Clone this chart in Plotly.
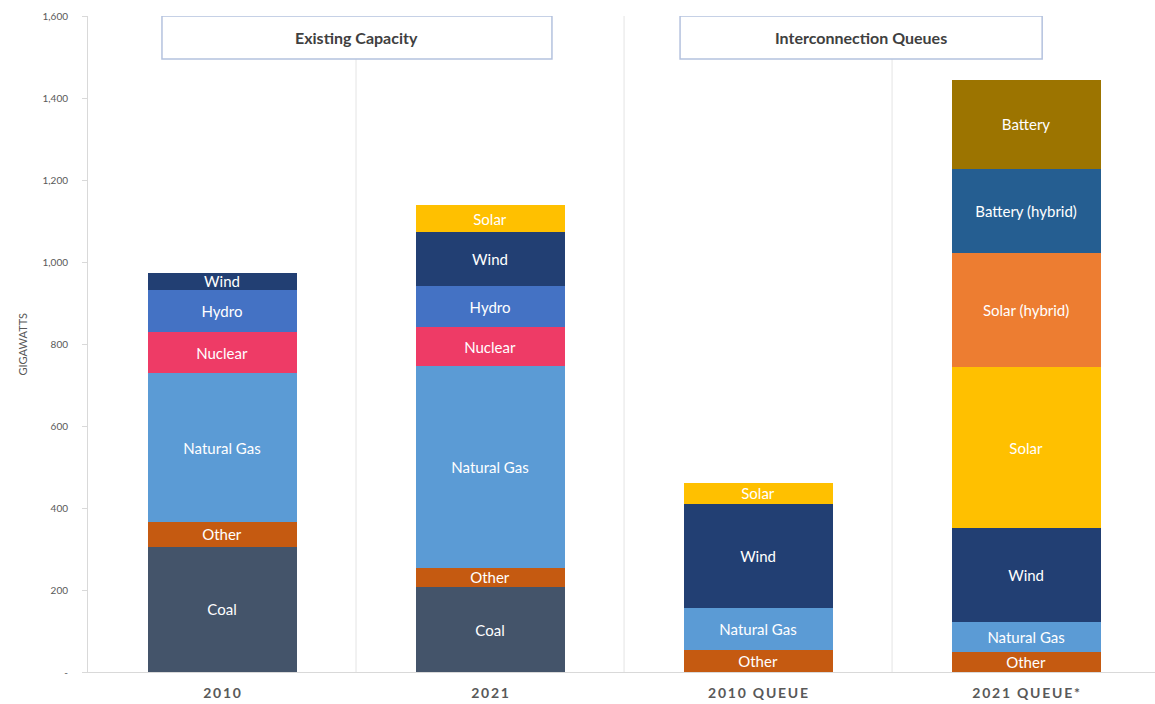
import plotly.graph_objects as go

# Categories on the x axis
categories = ["2010", "2021", "2010 QUEUE", "2021 QUEUE*"]
category_labels = ["2\u20090\u20091\u20090", "2\u20090\u20092\u20091",
                   "2\u20090\u20091\u20090\u2002Q\u2009U\u2009E\u2009U\u2009E",
                   "2\u20090\u20092\u20091\u2002Q\u2009U\u2009E\u2009U\u2009E\u2009*"]

# Capacity by resource (GW), stacked bottom-up in this order
coal          = [305, 207, None, None]
other         = [61, 47, 54, 49]
natural_gas   = [363, 492, 102, 73]
nuclear       = [100, 95, None, None]
hydro         = [103, 100, None, None]
wind          = [41, 132, 254, 229]
solar         = [None, 66, 51, 393]
solar_hybrid  = [None, None, None, 278]
battery_hybrid = [None, None, None, 205]
battery       = [None, None, None, 217]

series = [
    ("Coal", coal, "#44546A"),
    ("Other", other, "#C55A11"),
    ("Natural Gas", natural_gas, "#5B9BD5"),
    ("Nuclear", nuclear, "#EE3B66"),
    ("Hydro", hydro, "#4472C4"),
    ("Wind", wind, "#223F73"),
    ("Solar", solar, "#FFC000"),
    ("Solar (hybrid)", solar_hybrid, "#ED7D31"),
    ("Battery (hybrid)", battery_hybrid, "#255E91"),
    ("Battery", battery, "#9C7400"),
]

y_ticks = [0, 200, 400, 600, 800, 1000, 1200, 1400, 1600]
y_tick_text = ["-", "200", "400", "600", "800", "1,000", "1,200", "1,400", "1,600"]

FONT = "Lato"
GRID = "#D9D9D9"

fig = go.Figure()
for name, vals, color in series:
    fig.add_trace(go.Bar(
        x=list(range(len(categories))), y=vals, name=name,
        marker=dict(color=color, line=dict(width=0)),
        text=[name if v else None for v in vals],
        textposition="inside", insidetextanchor="middle", textangle=0,
        insidetextfont=dict(family=FONT, size=15, color="white"),
        width=0.556,
    ))

# Separators between the category columns
for xb in [0.5, 1.5, 2.5]:
    fig.add_shape(type="line", xref="x", yref="y", x0=xb, x1=xb, y0=0, y1=1600,
                  line=dict(color="#E4E4E4", width=1), layer="below")

# Section header boxes
headers = [("Existing Capacity", -0.224, 1.231), ("Interconnection Queues", 1.709, 3.06)]
for label, x0, x1 in headers:
    fig.add_shape(type="rect", xref="x", yref="y", x0=x0, x1=x1, y0=1495, y1=1600,
                  line=dict(color="#B4C2DE", width=1.5), fillcolor="white")
    fig.add_annotation(x=(x0 + x1) / 2, y=1547, xref="x", yref="y", text=f"<b>{label}</b>",
                       showarrow=False, font=dict(family=FONT, size=16, color="#404040"))

fig.add_annotation(x=0, y=0.5, xref="paper", yref="paper", xshift=-75, text="GIGAWATTS",
                   textangle=-90, showarrow=False, font=dict(family=FONT, size=11, color="#595959"))

fig.update_layout(
    width=1155, height=704,
    margin=dict(l=88, r=0, t=16, b=32),
    barmode="stack", showlegend=False,
    plot_bgcolor="white", paper_bgcolor="white",
    uniformtext=dict(minsize=15, mode="show"),
    xaxis=dict(range=[-0.5, 3.481], tickvals=list(range(len(categories))),
               ticktext=[f"<b>{t}</b>" for t in category_labels],
               tickfont=dict(family=FONT, size=14, color="#595959"),
               showgrid=False, showline=True, linecolor=GRID, linewidth=1,
               ticks="", zeroline=False, ticklabelstandoff=8),
    yaxis=dict(range=[0, 1600], tickvals=y_ticks, ticktext=y_tick_text,
               tickfont=dict(family=FONT, size=10, color="#595959"),
               showgrid=False, showline=True, linecolor=GRID, linewidth=1,
               ticks="outside", ticklen=5, tickcolor=GRID, ticklabelstandoff=12,
               zeroline=False),
)

fig.write_html("out.html")
